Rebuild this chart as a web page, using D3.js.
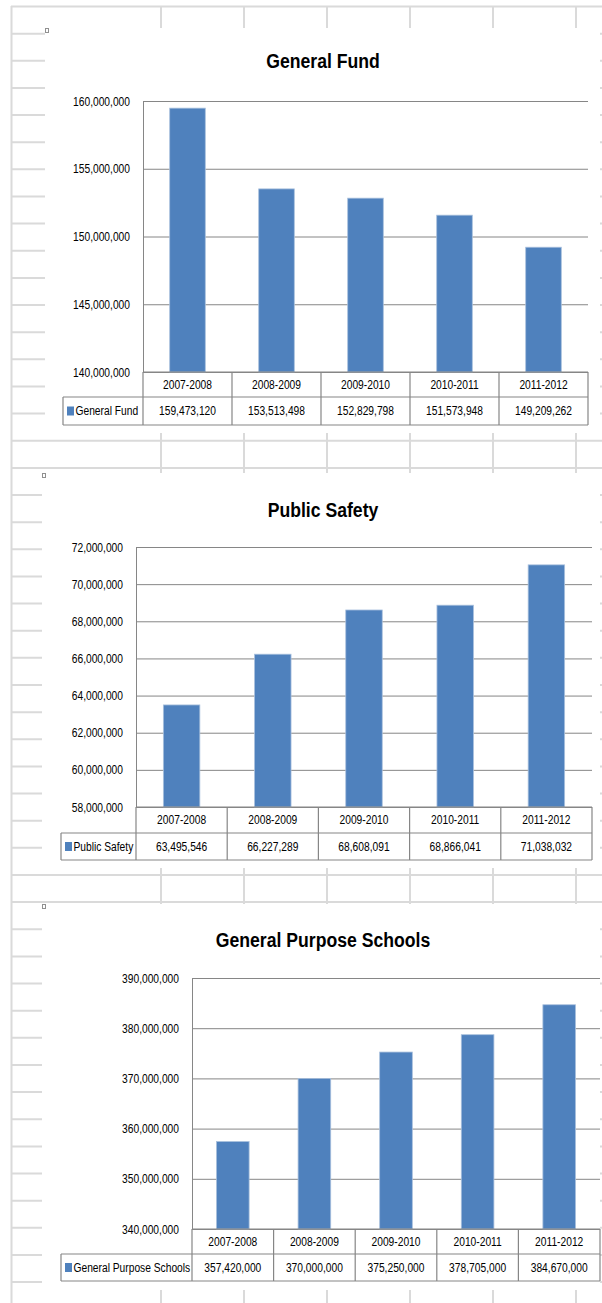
<!DOCTYPE html>
<html>
<head>
<meta charset="utf-8">
<script src="https://cdn.jsdelivr.net/npm/d3@7"></script>
<style>
  body { margin: 0; background: #fff; }
  svg text { font-family: "Liberation Sans", Arial, sans-serif; fill: #000; }
</style>
</head>
<body>
<div id="sheet"></div>
<script>
// Chart data
var years = ["2007-2008", "2008-2009", "2009-2010", "2010-2011", "2011-2012"];
var generalFund = [159473120, 153513498, 152829798, 151573948, 149209262];
var publicSafety = [63495546, 66227289, 68608091, 68866041, 71038032];
var schools = [357420000, 370000000, 375250000, 378705000, 384670000];

var gfTicks = [140000000, 145000000, 150000000, 155000000, 160000000];
var psTicks = [58000000, 60000000, 62000000, 64000000, 66000000, 68000000, 70000000, 72000000];
var gsTicks = [340000000, 350000000, 360000000, 370000000, 380000000, 390000000];

var svgWidth = 602;
var svgHeight = 1303;
var fmt = d3.format(",");
var squeeze = 0.82; // the original uses a narrow (Calibri-like) face
var fs = "12.5px";

var svg = d3.select("#sheet")
  .append("svg")
  .attr("width", svgWidth)
  .attr("height", svgHeight);

// Spreadsheet grid behind the charts
var gridColor = "#dadada";
var colLines = [161, 244, 327, 410, 493, 576];
var rowLines = d3.range(0, 48).map(k => 6.5 + k * 27.14);

svg.append("g").selectAll("line")
  .data(rowLines)
  .enter()
  .append("line")
  .attr("x1", 11).attr("x2", svgWidth)
  .attr("y1", d => d).attr("y2", d => d)
  .attr("stroke", gridColor).attr("stroke-width", 2);

svg.append("g").selectAll("line")
  .data(colLines)
  .enter()
  .append("line")
  .attr("x1", d => d).attr("x2", d => d)
  .attr("y1", 7).attr("y2", svgHeight)
  .attr("stroke", gridColor).attr("stroke-width", 2);

svg.append("line")
  .attr("x1", 11.5).attr("x2", 11.5)
  .attr("y1", 6).attr("y2", svgHeight)
  .attr("stroke", gridColor).attr("stroke-width", 2);

var charts = [
  {title: "General Fund", values: generalFund, ticks: gfTicks, domain: [140000000, 160000000],
   area: {x: 45, y: 28, w: 555, h: 405}, titleY: 68,
   plot: {left: 143, right: 588, top: 101, bottom: 372}, legendX: 63, rows: [25, 28]},
  {title: "Public Safety", values: publicSafety, ticks: psTicks, domain: [58000000, 72000000],
   area: {x: 42, y: 473, w: 558, h: 395}, titleY: 517,
   plot: {left: 136, right: 592, top: 547, bottom: 807}, legendX: 61, rows: [26, 27]},
  {title: "General Purpose Schools", values: schools, ticks: gsTicks, domain: [340000000, 390000000],
   area: {x: 42, y: 904, w: 558, h: 386}, titleY: 947,
   plot: {left: 192, right: 600, top: 978, bottom: 1229}, legendX: 61, rows: [25, 27]}
];

charts.forEach(drawChart);

function drawChart(c) {
  var g = svg.append("g");
  var p = c.plot;
  var line = "#868686";

  // chart area
  g.append("rect")
    .attr("x", c.area.x).attr("y", c.area.y)
    .attr("width", c.area.w).attr("height", c.area.h)
    .attr("fill", "#fff");
  g.append("rect")
    .attr("x", c.area.x + 0.5).attr("y", c.area.y + 0.5)
    .attr("width", 3).attr("height", 4)
    .attr("fill", "none").attr("stroke", "#909090");

  // title
  g.append("text")
    .attr("transform", `translate(323,${c.titleY}) scale(0.84,1)`)
    .attr("text-anchor", "middle")
    .style("font-size", "21px").style("font-weight", "bold")
    .text(c.title);

  var x = d3.scaleBand()
    .domain(years)
    .range([p.left, p.right])
    .paddingInner(0.6)
    .paddingOuter(0.3);

  var y = d3.scaleLinear()
    .domain(c.domain)
    .range([p.bottom, p.top]);

  // gridlines + labels
  var yAxis = d3.axisLeft(y)
    .tickValues(c.ticks)
    .tickSize(-(p.right - p.left))
    .tickPadding(13)
    .tickFormat(fmt);

  var ax = g.append("g")
    .attr("transform", `translate(${p.left},0)`)
    .call(yAxis);
  ax.select(".domain").remove();
  ax.selectAll(".tick line").attr("stroke", line);
  ax.selectAll(".tick text")
    .style("font-size", fs)
    .attr("x", -13 / squeeze)
    .attr("transform", `scale(${squeeze},1)`);

  // bars
  g.append("g").selectAll("rect")
    .data(c.values)
    .enter()
    .append("rect")
    .attr("x", (d, i) => x(years[i]))
    .attr("y", d => y(d))
    .attr("width", x.bandwidth())
    .attr("height", d => p.bottom - y(d))
    .attr("fill", "#4f81bd")
    .attr("stroke", "#a9c0dd")
    .attr("stroke-width", 0.8);

  // vertical axis line
  g.append("line")
    .attr("x1", p.left + 0.5).attr("x2", p.left + 0.5)
    .attr("y1", p.top).attr("y2", p.bottom)
    .attr("stroke", line);

  // data table
  var hdrBottom = p.bottom + c.rows[0];
  var tblBottom = hdrBottom + c.rows[1];
  var edges = years.map(d => x(d) - x.step() * 0.3);
  edges.push(p.right);

  var t = g.append("g").attr("stroke", line).attr("stroke-width", 1.2);
  t.append("line").attr("x1", p.left).attr("x2", p.right).attr("y1", p.bottom).attr("y2", p.bottom);
  t.append("line").attr("x1", c.legendX).attr("x2", p.right).attr("y1", hdrBottom).attr("y2", hdrBottom);
  t.append("line").attr("x1", c.legendX).attr("x2", p.right).attr("y1", tblBottom).attr("y2", tblBottom);
  t.append("line").attr("x1", c.legendX).attr("x2", c.legendX).attr("y1", hdrBottom).attr("y2", tblBottom);
  t.selectAll(".col")
    .data(edges)
    .enter()
    .append("line")
    .attr("class", "col")
    .attr("x1", d => d).attr("x2", d => d)
    .attr("y1", p.bottom).attr("y2", tblBottom);

  g.append("g").selectAll("text")
    .data(years)
    .enter()
    .append("text")
    .attr("transform", d => `translate(${x(d) + x.bandwidth() / 2},${p.bottom + c.rows[0] / 2}) scale(${squeeze},1)`)
    .attr("dy", "0.35em")
    .attr("text-anchor", "middle")
    .style("font-size", fs)
    .text(d => d);

  g.append("g").selectAll("text")
    .data(c.values)
    .enter()
    .append("text")
    .attr("transform", (d, i) => `translate(${x(years[i]) + x.bandwidth() / 2},${hdrBottom + c.rows[1] / 2}) scale(${squeeze},1)`)
    .attr("dy", "0.35em")
    .attr("text-anchor", "middle")
    .style("font-size", fs)
    .text(d => fmt(d));

  // legend key
  g.append("rect")
    .attr("x", c.legendX + 4).attr("y", hdrBottom + c.rows[1] / 2 - 4.5)
    .attr("width", 7).attr("height", 9)
    .attr("fill", "#4f81bd");
  g.append("text")
    .attr("transform", `translate(${c.legendX + 12.5},${hdrBottom + c.rows[1] / 2}) scale(${squeeze},1)`)
    .attr("dy", "0.35em")
    .style("font-size", fs)
    .text(c.title);
}
</script>
</body>
</html>
